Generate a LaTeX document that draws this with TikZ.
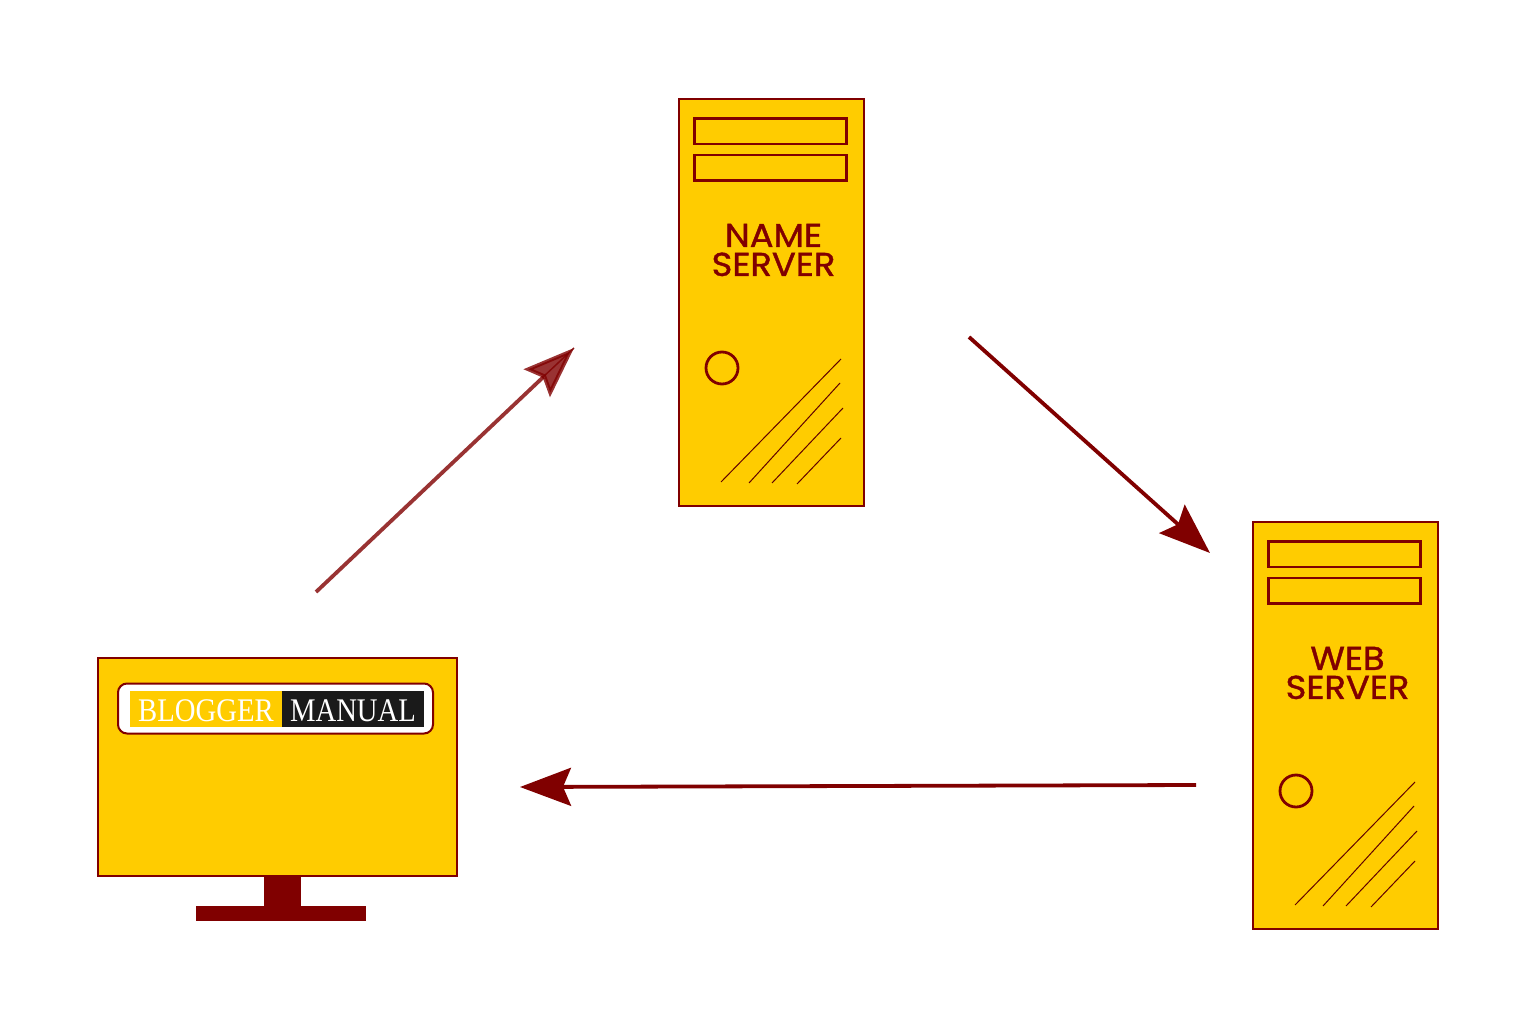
\documentclass[tikz,border=0pt]{standalone}
\usepackage{fontspec}
\usetikzlibrary{arrows.meta, positioning}
\newfontfamily\labelfont[FakeStretch=1.07, FakeBold=1.2]{Poppins}
\newfontfamily\logofont[FakeStretch=0.87]{Liberation Serif}
\definecolor{maroon}{HTML}{800000}
\definecolor{amber}{HTML}{FFCC00}
\definecolor{inkblack}{HTML}{1A1A1A}
\tikzstyle{serverbox} = [rectangle, draw=maroon, line width=2.2pt, fill=amber, minimum width=185pt, minimum height=407pt, outer sep=0pt]
\tikzstyle{slot} = [rectangle, draw=maroon, line width=2.8pt, fill=amber, minimum width=152pt, minimum height=25.5pt, outer sep=0pt]
\tikzstyle{led} = [circle, draw=maroon, line width=2.8pt, minimum size=32pt, inner sep=0pt]
\tikzstyle{glare} = [draw=maroon!75!black, line width=1pt]
\tikzstyle{servertext} = [text=maroon, align=center, font=\fontsize{33}{29}\labelfont\selectfont]
\tikzstyle{screen} = [rectangle, draw=maroon, line width=2.2pt, fill=amber, minimum width=359pt, minimum height=218pt, outer sep=0pt]
\tikzstyle{stand} = [rectangle, fill=maroon, inner sep=0pt, outer sep=0pt]
\tikzstyle{logobox} = [rectangle, rounded corners=9pt, draw=maroon, line width=2pt, fill=white, minimum width=315pt, minimum height=50pt, outer sep=0pt]
\tikzstyle{logotext} = [rectangle, text=white, minimum height=36pt, text height=24pt, text depth=0pt, inner sep=0pt, outer sep=0pt, font=\fontsize{33}{33}\logofont\selectfont]
\tikzstyle{flow} = [line width=3.8pt, draw=maroon, -{Stealth[length=51pt, width=38pt, inset=8pt]}]
\tikzstyle{seam} = [line width=1.5pt, draw=maroon, opacity=0.8]

\begin{document}
\begin{tikzpicture}[x=1pt, y=-1pt]
	\useasboundingbox (0,0) rectangle (1536,1024);

	% Name server
	\node (name_box) [serverbox] at (771.5,302.5) {};
	\node (name_slot1) [slot, below=19.5pt of name_box.north, xshift=-1pt] {};
	\node (name_slot2) [slot, below=11pt of name_slot1] {};
	\node (name_text) [servertext] at (773.5,250) {NAME\\SERVER};
	\node (name_led) [led] at (722,368) {};
	\draw[glare] (721,482) -- (841,359);
	\draw[glare] (749,483) -- (840,383);
	\draw[glare] (772,483) -- (843,408);
	\draw[glare] (797,484) -- (841,438);

	% Web server
	\node (web_box) [serverbox] at (1345.5,725.5) {};
	\node (web_slot1) [slot, below=19.5pt of web_box.north, xshift=-1pt] {};
	\node (web_slot2) [slot, below=11pt of web_slot1] {};
	\node (web_text) [servertext] at (1347.5,673) {WEB\\SERVER};
	\node (web_led) [led] at (1296,791) {};
	\draw[glare] (1295,905) -- (1415,782);
	\draw[glare] (1323,906) -- (1414,806);
	\draw[glare] (1346,906) -- (1417,831);
	\draw[glare] (1371,907) -- (1415,861);

	% Monitor
	\node (neck) [stand, minimum width=37pt, minimum height=30pt] at (282.5,890.5) {};
	\node (base) [stand, minimum width=170pt, minimum height=15pt, below=0pt of neck, xshift=-1.5pt] {};
	\node (monitor) [screen] at (277.3,767) {};
	\node (logo) [logobox] at (275.5,708.5) {};
	\node (logo_blogger) [logotext, fill=amber, minimum width=152pt] at (206,709) {BLOGGER};
	\node (logo_manual) [logotext, fill=inkblack, minimum width=142pt, right=0pt of logo_blogger] {MANUAL};

	% Arrow ends
	\coordinate (up_start) at (316,592);
	\coordinate (up_end) at (574,348);
	\coordinate (up_notch) at (542,378);
	\coordinate (down_start) at (969,337);
	\coordinate (down_end) at (1210,553);
	\coordinate (back_start) at (1196,785);
	\coordinate (back_end) at (520,787);

	% Arrows
	\draw[flow, opacity=0.8] (up_start) -- (up_end);
	\draw[seam] (up_notch) -- (up_end);
	\draw[flow] (down_start) -- (down_end);
	\draw[flow] (back_start) -- (back_end);

\end{tikzpicture}
\end{document}
